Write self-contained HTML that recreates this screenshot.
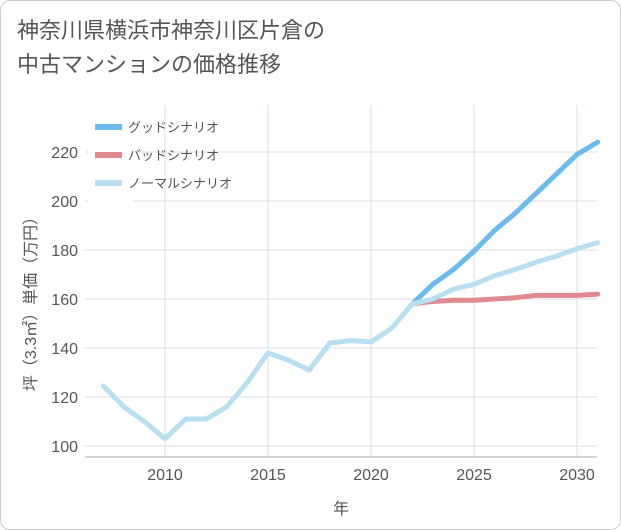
<!DOCTYPE html>
<html><head><meta charset="utf-8"><style>
body{margin:0;background:#fff;}
.card{position:absolute;left:0;top:0;width:619px;height:528px;border:1px solid #ccc;border-radius:10px;background:#fff;}
.title{position:absolute;left:17px;top:14px;font:22px "Liberation Sans","Noto Sans CJK JP",sans-serif;color:#555;line-height:34px;}
svg text{font-family:"Liberation Sans","Noto Sans CJK JP",sans-serif;}
</style></head><body>
<div class="card"></div>
<div class="title">神奈川県横浜市神奈川区片倉の<br>中古マンションの価格推移</div>
<svg id="c" width="621" height="530" style="position:absolute;left:0;top:0"></svg>
<script>
const years=[2007,2008,2009,2010,2011,2012,2013,2014,2015,2016,2017,2018,2019,2020,2021,2022];
const normalHist=[124.5,116,110,103,111,111,116,126,138,135,131,142,143,142.5,148,158];
const futYears=[2022,2023,2024,2025,2026,2027,2028,2029,2030,2031];
const good=[158,166,172,179.5,188,195,203,211,219,224];
const bad=[158,159,159.5,159.5,160,160.5,161.5,161.5,161.5,162];
const normal=[158,160,164,166,169.5,172,175,177.5,180.5,183];
const xTicks=[2010,2015,2020,2025,2030];
const yTicks=[100,120,140,160,180,200,220];
const L=85,R=597,T=105,B=457;
const X=y=>165+(y-2010)*20.6;
const Y=v=>446-(v-100)*2.45;
const s=document.getElementById('c');const NS='http://www.w3.org/2000/svg';
function el(t,a,p){const e=document.createElementNS(NS,t);for(const k in a)e.setAttribute(k,a[k]);(p||s).appendChild(e);return e;}
xTicks.forEach(t=>{const g=el('line',{x1:X(t),x2:X(t),y1:T,y2:B,stroke:'#d3e1ea','stroke-width':1});});
yTicks.forEach(v=>{const g=el('line',{x1:L,x2:R,y1:Y(v),y2:Y(v),stroke:'#d8dee4','stroke-width':1});});
el('line',{x1:L,x2:R,y1:B,y2:B,stroke:'#aaa'});
xTicks.forEach(t=>{const e=el('text',{x:X(t),y:480,'text-anchor':'middle','font-size':16,fill:'#555'});e.textContent=t;});
yTicks.forEach(t=>{const e=el('text',{x:78,y:Y(t)+6,'text-anchor':'end','font-size':16,fill:'#555'});e.textContent=t;});
let xt=el('text',{x:341,y:514,'text-anchor':'middle','font-size':16,fill:'#555'});xt.textContent='年';
let yt=el('text',{x:0,y:0,'text-anchor':'middle','font-size':16,fill:'#555',transform:'translate(36,300) rotate(-90)'});yt.textContent='坪（3.3㎡）単価（万円）';
function line(xs,vs,c,n){const p=el('polyline',{points:xs.map((x,i)=>X(x)+','+Y(vs[i])).join(' '),fill:'none',stroke:c,'stroke-width':5,'stroke-linejoin':'round','stroke-linecap':'round'});}
line(futYears,good,'#6bbbee','good-scenario-line');
line(futYears,bad,'#e08a8f','bad-scenario-line');
line(futYears,normal,'#b8dff0','normal-scenario-line');
line(years,normalHist,'#b8dff0','historical-line');
el('rect',{x:88,y:112,width:45,height:92,fill:'#fff'});
[['グッドシナリオ','#6bbbee',127],['バッドシナリオ','#e08a8f',155],['ノーマルシナリオ','#b8dff0',183]].forEach(([t,c,y])=>{const l=el('line',{x1:95,x2:122,y1:y,y2:y,stroke:c,'stroke-width':6});const e=el('text',{x:128,y:y+5,'font-size':13,fill:'#555'});e.textContent=t;});
</script>
</body></html>
